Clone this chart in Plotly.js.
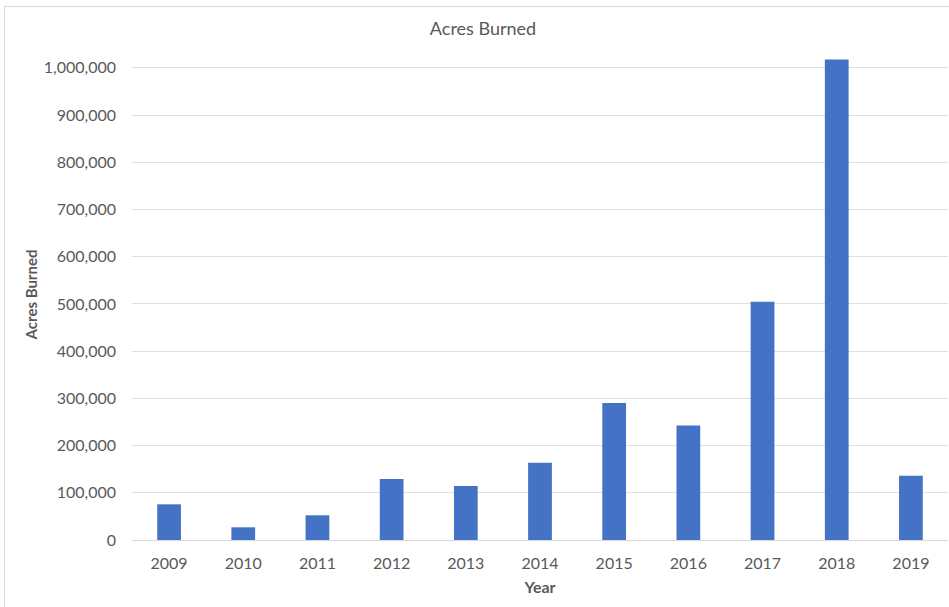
<!DOCTYPE html>
<html>
<head>
<meta charset="utf-8">
<script src="https://cdn.plot.ly/plotly-3.0.1.min.js"></script>
<style>
  html, body { margin: 0; padding: 0; background: #ffffff; }
  #wrap { position: relative; width: 949px; height: 607px; overflow: hidden; }
  #chart { position: absolute; left: 0; top: 0; width: 949px; height: 607px; }
  #frame { position: absolute; left: 4px; top: 6px; width: 960px; height: 620px;
           border-top: 1px solid #d9d9d9; border-left: 1px solid #d9d9d9; pointer-events: none; }
</style>
</head>
<body>
<div id="wrap">
  <div id="chart"></div>
  <div id="frame"></div>
</div>
<script>
// Acres burned per year
const years = ['2009', '2010', '2011', '2012', '2013', '2014', '2015', '2016', '2017', '2018', '2019'];
const acresBurned = [75600, 26900, 52300, 129000, 114400, 163800, 290000, 242600, 504700, 1018000, 136000];

const FONT = 'Lato, "Open Sans", sans-serif';
const TEXT = '#595959';

const trace = {
  type: 'bar',
  x: years,
  y: acresBurned,
  marker: { color: '#4472c4' },
  hoverinfo: 'x+y'
};

const layout = {
  width: 949,
  height: 607,
  margin: { l: 132, r: 1, t: 49, b: 67 },
  paper_bgcolor: '#ffffff',
  plot_bgcolor: '#ffffff',
  bargap: 0.68,
  showlegend: false,
  font: { family: FONT, color: TEXT, size: 16 },
  title: {
    text: 'Acres Burned',
    font: { family: FONT, size: 18, color: TEXT },
    x: 483 / 949, xref: 'container', xanchor: 'center',
    y: 1 - 29 / 607, yref: 'container', yanchor: 'middle'
  },
  xaxis: {
    type: 'category',
    showline: true,
    linecolor: '#d9d9d9',
    linewidth: 1,
    ticks: '',
    ticklabelstandoff: 9,
    tickfont: { family: FONT, size: 16, color: TEXT },
    title: { text: 'Year', font: { family: FONT, size: 16, color: TEXT, weight: 'bold' }, standoff: 10 }
  },
  yaxis: {
    range: [0, 1040000],
    tickvals: [0, 100000, 200000, 300000, 400000, 500000, 600000, 700000, 800000, 900000, 1000000],
    tickformat: ',d',
    showgrid: true,
    gridcolor: '#e0e0e0',
    gridwidth: 1,
    zeroline: false,
    ticks: '',
    ticklabelstandoff: 15,
    tickfont: { family: FONT, size: 16, color: TEXT },
    title: { text: 'Acres Burned', font: { family: FONT, size: 15, color: TEXT, weight: 'bold' }, standoff: 2 }
  }
};

Plotly.newPlot('chart', [trace], layout, { displayModeBar: false, staticPlot: true });
</script>
</body>
</html>
